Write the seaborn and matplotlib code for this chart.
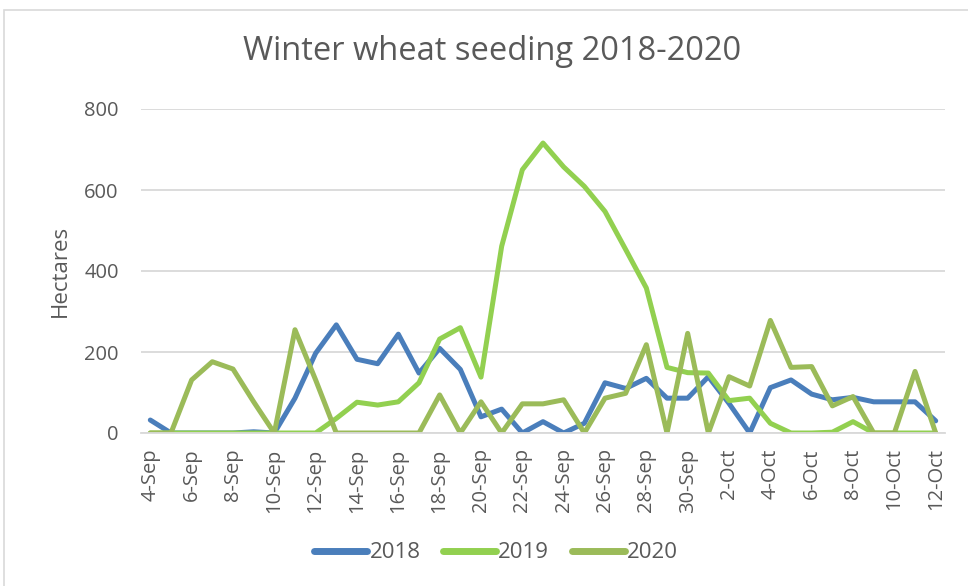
import matplotlib
matplotlib.use("Agg")
import matplotlib.pyplot as plt
import seaborn as sns
import pandas as pd
from matplotlib.patches import Rectangle

days = ["4-Sep", "5-Sep", "6-Sep", "7-Sep", "8-Sep", "9-Sep", "10-Sep", "11-Sep", "12-Sep",
        "13-Sep", "14-Sep", "15-Sep", "16-Sep", "17-Sep", "18-Sep", "19-Sep", "20-Sep",
        "21-Sep", "22-Sep", "23-Sep", "24-Sep", "25-Sep", "26-Sep", "27-Sep", "28-Sep",
        "29-Sep", "30-Sep", "1-Oct", "2-Oct", "3-Oct", "4-Oct", "5-Oct", "6-Oct", "7-Oct",
        "8-Oct", "9-Oct", "10-Oct", "11-Oct", "12-Oct"]

y2018 = [32, 0, 0, 0, 0, 3, 0, 86, 197, 267, 182, 171, 244, 148, 209, 157, 40, 59, 0, 28,
         0, 24, 124, 110, 135, 86, 86, 139, 73, 0, 112, 131, 96, 82, 88, 77, 77, 77, 30]
y2019 = [0, 0, 0, 0, 0, 0, 0, 0, 0, 36, 76, 69, 77, 124, 232, 260, 138, 461, 650, 716,
         657, 609, 547, 453, 358, 162, 149, 148, 80, 86, 24, 0, 0, 2, 28, 0, 0, 0, 0]
y2020 = [0, 0, 131, 176, 158, 77, 0, 255, 131, 0, 0, 0, 0, 0, 94, 0, 77, 0, 72, 72,
         82, 0, 86, 98, 218, 0, 246, 0, 139, 116, 278, 162, 164, 67, 90, 0, 0, 152, 0]

years = ["2018", "2019", "2020"]
colors = ["#4A7EBB", "#92D050", "#9BBB59"]

idx = list(range(len(days)))
df = pd.concat([
    pd.DataFrame({"idx": idx, "Hectares": vals, "year": yr})
    for yr, vals in zip(years, [y2018, y2019, y2020])
], ignore_index=True)

sns.set_theme(style="white")
plt.rcParams["font.family"] = ["Open Sans", "DejaVu Sans"]

fig = plt.figure(figsize=(9.68, 5.86), dpi=100)
ax = fig.add_axes([141 / 968, 1 - 433 / 586, (945 - 141) / 968, (433 - 109) / 586])

sns.lineplot(data=df, x="idx", y="Hectares", hue="year", palette=dict(zip(years, colors)),
             linewidth=3.6, ax=ax, legend=True)

ax.set_xlim(-0.45, len(days) - 1 + 0.45)
ax.set_ylim(0, 800)
ax.set_yticks([0, 200, 400, 600, 800])
ax.yaxis.grid(True, color="#D9D9D9", linewidth=1.3)
ax.set_axisbelow(True)
for s in ["top", "right", "left"]:
    ax.spines[s].set_visible(False)
ax.spines["bottom"].set_color("#D9D9D9")
ax.spines["bottom"].set_linewidth(1.3)

ax.set_xticks(idx[::2])
ax.set_xticklabels(days[::2], rotation=90, fontsize=14.5, color="#595959")
ax.tick_params(axis="y", labelsize=14.5, labelcolor="#595959", length=0, pad=16)
ax.tick_params(axis="x", length=0, pad=11)
ax.set_xlabel("")
ax.set_ylabel("Hectares", fontsize=16, color="#595959", labelpad=10)

fig.text(492 / 968, 1 - 51 / 586, "Winter wheat seeding 2018-2020", ha="center", va="center",
         fontsize=23.5, color="#595959")

handles, labels = ax.get_legend_handles_labels()
leg = ax.legend(handles, labels, loc="center", bbox_to_anchor=(496 / 968, 1 - 553 / 586),
                bbox_transform=fig.transFigure,
                ncol=3, frameon=False, fontsize=16, handlelength=2.4, handletextpad=0.1,
                columnspacing=1.0, labelcolor="#595959")
for line in leg.get_lines():
    line.set_linewidth(5)
    line.set_solid_capstyle("round")

fig.patches.append(Rectangle((4 / 968, -0.05), 1.1, 1 - 10 / 586 + 0.05,
                             transform=fig.transFigure, fill=False,
                             edgecolor="#D9D9D9", linewidth=1.2))

fig.savefig("out.png", dpi=100)
